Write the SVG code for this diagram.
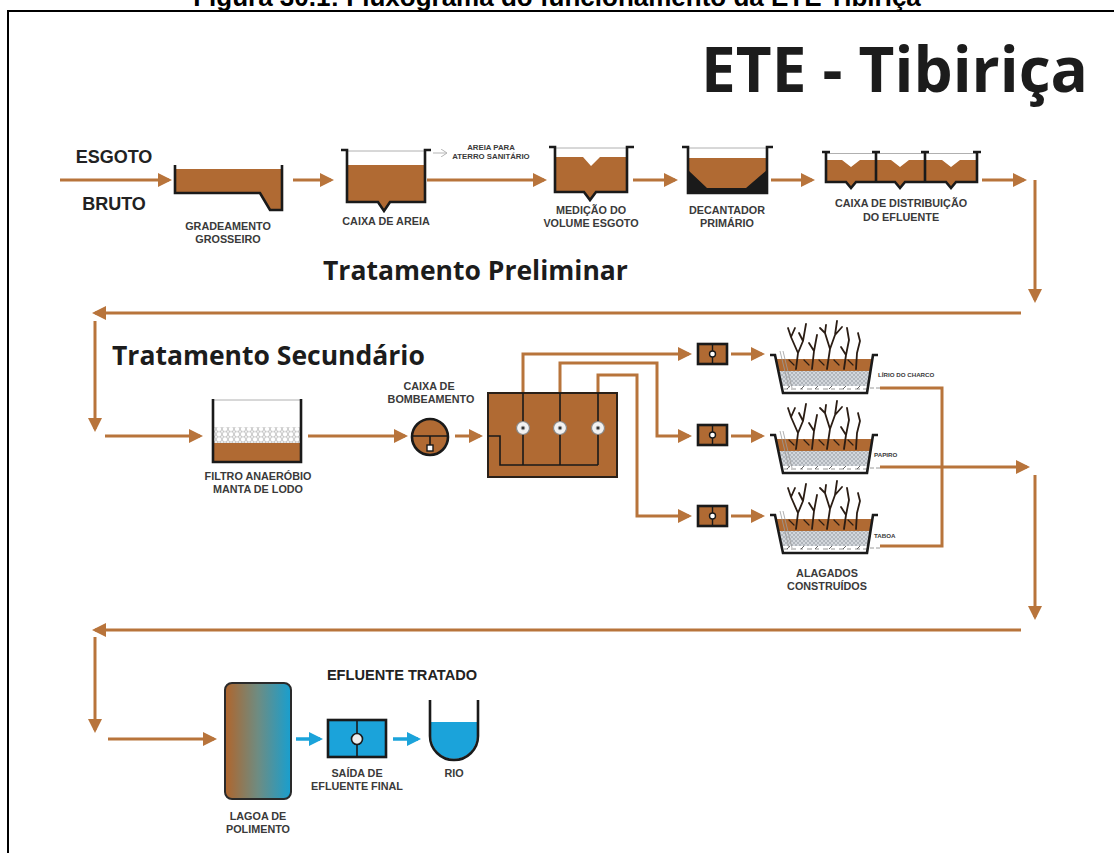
<svg xmlns="http://www.w3.org/2000/svg" xmlns:xlink="http://www.w3.org/1999/xlink" width="1114" height="853" viewBox="0 0 1114 853">
  <style>
    .flow { fill: none; stroke: #B8743B; stroke-width: 3; marker-end: url(#arrow); }
    .pipe { fill: none; stroke: #B8743B; stroke-width: 3; }
    .flow-blue { fill: none; stroke: #1BA3DA; stroke-width: 3.5; marker-end: url(#arrow-blue); }
    .wall { fill: none; stroke: #1a1a1a; stroke-width: 2.6; stroke-linejoin: miter; }
    .thin { fill: none; stroke: #1a1a1a; stroke-width: 1.6; }
    .surface { fill: none; stroke: #b0b0b0; stroke-width: 1; }
    .mud { fill: #B06A33; }
    .lbl { font-family: "Liberation Sans", Arial, sans-serif; font-weight: bold; font-size: 10.8px; fill: #3a3a3a; text-anchor: middle; }
    .small { font-family: "Liberation Sans", Arial, sans-serif; font-weight: bold; font-size: 6.2px; fill: #3a3a3a; }
    .head { font-family: "Open Sans", "DejaVu Sans", sans-serif; font-weight: bold; fill: #1c1c1c; }
    .plant { fill: none; stroke: #2b1d14; stroke-width: 1.8; stroke-linecap: round; stroke-linejoin: round; }
  </style>
  <defs>
    <marker id="arrow" markerUnits="userSpaceOnUse" markerWidth="14" markerHeight="14" refX="11" refY="7" orient="auto">
      <path d="M0 0 L14 7 L0 14 Z" fill="#B8743B"/>
    </marker>
    <marker id="arrow-blue" markerUnits="userSpaceOnUse" markerWidth="14" markerHeight="14" refX="11" refY="7" orient="auto">
      <path d="M0 0 L14 7 L0 14 Z" fill="#1BA3DA"/>
    </marker>
    <marker id="arrow-gray" markerUnits="userSpaceOnUse" markerWidth="8" markerHeight="8" refX="6" refY="4" orient="auto">
      <path d="M0 0 L6 4 L0 8" fill="none" stroke="#b5b5b5" stroke-width="1"/>
    </marker>
    <pattern id="hex" patternUnits="userSpaceOnUse" width="6" height="5.2">
      <rect width="6" height="5.2" fill="#ffffff"/>
      <path d="M0 2.6 L1.5 0 H4.5 L6 2.6 L4.5 5.2 H1.5 Z" fill="none" stroke="#9a9a9a" stroke-width="0.6"/>
    </pattern>
    <pattern id="gravel" patternUnits="userSpaceOnUse" width="4" height="4">
      <rect width="4" height="4" fill="#d3d7dc"/>
      <path d="M0 0 L4 4 M4 0 L0 4" stroke="#8f959c" stroke-width="0.5"/>
    </pattern>
    <linearGradient id="lagoon" x1="0" y1="0" x2="1" y2="0">
      <stop offset="0" stop-color="#B0652C"/>
      <stop offset="0.5" stop-color="#6E8C82"/>
      <stop offset="1" stop-color="#189FCF"/>
    </linearGradient>
    <clipPath id="basin-in">
      <path d="M5 0 L13 38 H97 L103 0 Z"/>
    </clipPath>
    <!-- constructed wetland basin with plants, origin at top-left flange -->
    <g id="wetland">
      <g clip-path="url(#basin-in)">
        <rect x="0" y="0" width="110" height="40" fill="#ffffff"/>
        <rect x="0" y="4" width="110" height="12" class="mud"/>
        <rect x="0" y="16" width="110" height="15" fill="url(#gravel)"/>
        <path d="M14 34 h4 m3 0 h5 m4 0 h3 m4 0 h5 m3 0 h4 m4 0 h5 m3 0 h4 m4 0 h5 m3 0 h4 m4 0 h5 m3 0 h4" stroke="#8a8a8a" stroke-width="0.9" fill="none"/>
        <path d="M20 31 l-3 3 M34 31 l-3 3 M48 31 l-3 3 M62 31 l-3 3 M76 31 l-3 3 M90 31 l-3 3" stroke="#555" stroke-width="0.9"/>
      </g>
      <path d="M10 -4 L19 33 M13 -4 L22 33" stroke="#9a9a9a" stroke-width="0.8" fill="none"/>
      <path d="M0 0 H5 L13 38 H97 L103 0 H108" class="wall"/>
      <path d="M100 33 H104 M106 33 H110" stroke="#9a9a9a" stroke-width="1"/>
      <g class="plant">
        <path d="M26 14 L28 -2 L21 -18 L18 -27 M28 -2 L33 -14 L36 -31 M21 -18 L25 -27 M33 -14 L29 -22"/>
        <path d="M42 14 L44 -4 L47 -20 M44 -4 L39 -12"/>
        <path d="M57 14 L60 -6 L55 -22 L56 -30 M60 -6 L65 -20 L67 -34 M65 -20 L72 -28 M55 -22 L50 -27"/>
        <path d="M74 14 L76 0 L79 -15 L77 -27 M76 0 L71 -8"/>
        <path d="M86 14 L87 -2 L90 -14 L88 -22"/>
        <path d="M24 10 L19 5 M39 10 L34 5 M54 10 L49 5 M69 10 L64 5 M83 10 L78 5" stroke-width="1.2"/>
      </g>
    </g>
  </defs>

  <rect x="0" y="0" width="1114" height="853" fill="#ffffff"/>

  <!-- page heading and frame -->
  <text x="557" y="6" font-family="Liberation Sans, Arial, sans-serif" font-weight="bold" font-size="26" fill="#000" text-anchor="middle">Figura 30.1: Fluxograma do funcionamento da ETE Tibiriça</text>
  <path d="M8 853 V11 H1114" fill="none" stroke="#000" stroke-width="2"/>

  <text class="head" x="1088" y="92" font-size="62" text-anchor="end">ETE - Tibiriça</text>
  <text class="head" x="323" y="280" font-size="26.5">Tratamento Preliminar</text>
  <text class="head" x="112" y="365" font-size="26.5">Tratamento Secundário</text>

  <!-- connectors -->
  <g id="connectors">
    <path class="flow" d="M60 180 H169"/>
    <path class="flow" d="M293 180 H331"/>
    <path class="flow" d="M427 180 H544"/>
    <path class="flow" d="M633 180 H675"/>
    <path class="flow" d="M771 180 H812"/>
    <path class="flow" d="M982 180 H1024"/>
    <path class="flow" d="M1035 180 V300"/>
    <path class="flow" d="M1021 313 H95"/>
    <path class="flow" d="M95 321 V429"/>
    <path d="M433 153 H447" fill="none" stroke="#b5b5b5" stroke-width="1" marker-end="url(#arrow-gray)"/>

    <path class="flow" d="M105 436 H200"/>
    <path class="flow" d="M308 436 H405"/>
    <path class="flow" d="M455 436 H480"/>
    <path class="flow" d="M523 393 V354 H689"/>
    <path class="flow" d="M560 393 V363 H657 V436 H689"/>
    <path class="flow" d="M598 393 V375 H637 V516 H689"/>
    <path class="flow" d="M731 354 H762"/>
    <path class="flow" d="M731 436 H762"/>
    <path class="flow" d="M731 516 H762"/>
    <path class="pipe" d="M880 388 H942 V546 H880"/>
    <path class="flow" d="M880 467 H1027"/>
    <path class="flow" d="M1035 475 V617"/>
    <path class="flow" d="M1021 630 H95"/>
    <path class="flow" d="M95 637 V730"/>

    <path class="flow" d="M108 739 H214"/>
    <path class="flow-blue" d="M296 739 H320"/>
    <path class="flow-blue" d="M393 739 H418"/>
  </g>

  <!-- raw sewage inlet -->
  <g id="esgoto-bruto">
    <text x="114" y="163" font-family="Liberation Sans, Arial, sans-serif" font-weight="bold" font-size="18" fill="#222" text-anchor="middle">ESGOTO</text>
    <text x="114" y="210" font-family="Liberation Sans, Arial, sans-serif" font-weight="bold" font-size="18" fill="#222" text-anchor="middle">BRUTO</text>
  </g>

  <g id="gradeamento">
    <path class="mud" d="M175 169 H282 V210 H270 L260 193 H175 Z"/>
    <path class="wall" d="M175 165 V193 H260 L270 210 H282 V165"/>
    <text class="lbl" x="228" y="230">GRADEAMENTO</text>
    <text class="lbl" x="228" y="243">GROSSEIRO</text>
  </g>

  <g id="caixa-areia">
    <path class="surface" d="M347 151 H425"/>
    <path class="mud" d="M347 165 H425 V202 H390 L384 211 L378 202 H347 Z"/>
    <path class="wall" d="M341 150 H347 V202 H378 L384 211 L390 202 H425 V150 H431"/>
    <text class="lbl" x="386" y="225">CAIXA DE AREIA</text>
    <text x="491" y="150" font-family="Liberation Sans, Arial, sans-serif" font-weight="bold" font-size="7.8" fill="#3a3a3a" text-anchor="middle">AREIA PARA</text>
    <text x="491" y="159" font-family="Liberation Sans, Arial, sans-serif" font-weight="bold" font-size="7.8" fill="#3a3a3a" text-anchor="middle">ATERRO SANITÁRIO</text>
  </g>

  <g id="medicao">
    <path class="surface" d="M555 148 H627"/>
    <path class="mud" d="M555 157 H583 L591 166 L600 157 H627 V192 H596 L590 199 L584 192 H555 Z"/>
    <path class="wall" d="M549 147 H555 V192 H584 L590 200 L596 192 H627 V147 H634"/>
    <text class="lbl" x="591" y="214">MEDIÇÃO DO</text>
    <text class="lbl" x="591" y="227">VOLUME ESGOTO</text>
  </g>

  <g id="decantador">
    <path class="surface" d="M688 148 H767"/>
    <rect class="mud" x="688" y="158" width="79" height="35"/>
    <path d="M688 170 L707 188 H746 L767 170 V193 H688 Z" fill="#1a1a1a"/>
    <path class="wall" d="M682 147 H688 V193 H767 V147 H773"/>
    <text class="lbl" x="727" y="214">DECANTADOR</text>
    <text class="lbl" x="727" y="227">PRIMÁRIO</text>
  </g>

  <g id="caixa-distribuicao">
    <path class="surface" d="M826 153.5 H977"/>
    <path class="mud" d="M826 160 H842 L851 167 L860 160 H891 L900 167 L909 160 H942 L951 167 L960 160 H977 V182 H956 L951 188 L946 182 H905 L900 188 L895 182 H856 L851 188 L846 182 H826 Z"/>
    <path class="wall" d="M826 152 V182 H846 L851 188 L856 182 H895 L900 188 L905 182 H946 L951 188 L956 182 H977 V152"/>
    <path class="wall" d="M876 152 V182 M925 152 V182 M822 152 H830 M872 152 H880 M921 152 H929 M973 152 H981"/>
    <text class="lbl" x="901" y="207">CAIXA DE DISTRIBUIÇÃO</text>
    <text class="lbl" x="901" y="221">DO EFLUENTE</text>
  </g>

  <g id="filtro-anaerobio">
    <path class="surface" d="M213 400 H301"/>
    <rect x="214" y="427" width="86" height="16" fill="url(#hex)"/>
    <rect class="mud" x="214" y="443" width="86" height="18"/>
    <path class="wall" d="M213 399 V462 H301 V399"/>
    <text class="lbl" x="258" y="480">FILTRO ANAERÓBIO</text>
    <text class="lbl" x="258" y="493">MANTA DE LODO</text>
  </g>

  <g id="caixa-bombeamento">
    <circle cx="430" cy="437" r="18" class="mud" stroke="#1a1a1a" stroke-width="2.6"/>
    <path class="thin" d="M412 436 H448 M430 436 V446" stroke-width="2"/>
    <rect x="427" y="445" width="6" height="6" fill="#ffffff" stroke="#1a1a1a" stroke-width="1.4"/>
    <text class="lbl" x="429" y="390">CAIXA DE</text>
    <text class="lbl" x="431" y="403">BOMBEAMENTO</text>
  </g>

  <g id="caixa-divisora">
    <rect x="488" y="393" width="129" height="84" class="mud" stroke="#2a2018" stroke-width="2"/>
    <path class="thin" d="M488 436 H500 V465 H598 M523 393 V465 M560 393 V465 M598 393 V465"/>
    <g fill="#f2f2f2" stroke="#8a8a8a" stroke-width="1.2">
      <circle cx="523" cy="428" r="6.5"/>
      <circle cx="560" cy="428" r="6.5"/>
      <circle cx="598" cy="428" r="6.5"/>
    </g>
    <g fill="#333" stroke="#9a9a9a" stroke-width="0.8">
      <circle cx="523" cy="428" r="1.8"/>
      <circle cx="560" cy="428" r="1.8"/>
      <circle cx="598" cy="428" r="1.8"/>
    </g>
  </g>

  <g id="valvulas">
    <g stroke="#1a1a1a">
      <rect x="698" y="344" width="29" height="20" class="mud" stroke-width="2.6"/>
      <rect x="698" y="425" width="29" height="20" class="mud" stroke-width="2.6"/>
      <rect x="698" y="506" width="29" height="20" class="mud" stroke-width="2.6"/>
      <path d="M712.5 344 V364 M712.5 425 V445 M712.5 506 V526" stroke-width="1.4"/>
    </g>
    <g fill="#ffffff" stroke="#1a1a1a" stroke-width="1.4">
      <circle cx="712.5" cy="354" r="3"/>
      <circle cx="712.5" cy="435" r="3"/>
      <circle cx="712.5" cy="516" r="3"/>
    </g>
  </g>

  <g id="alagados">
    <use xlink:href="#wetland" href="#wetland" x="770" y="355"/>
    <use xlink:href="#wetland" href="#wetland" x="770" y="435"/>
    <use xlink:href="#wetland" href="#wetland" x="770" y="515"/>
    <text class="small" x="878" y="377">LÍRIO DO CHARCO</text>
    <text class="small" x="874" y="457">PAPIRO</text>
    <text class="small" x="874" y="538">TABOA</text>
    <text class="lbl" x="827" y="577">ALAGADOS</text>
    <text class="lbl" x="827" y="590">CONSTRUÍDOS</text>
  </g>

  <g id="lagoa-polimento">
    <rect x="225" y="683" width="66" height="116" rx="7" fill="url(#lagoon)" stroke="#2a2a2a" stroke-width="2"/>
    <text class="lbl" x="258" y="820">LAGOA DE</text>
    <text class="lbl" x="258" y="833">POLIMENTO</text>
  </g>

  <g id="saida-efluente">
    <rect x="328" y="720" width="58" height="37" fill="#1BA3DA" stroke="#1a1a1a" stroke-width="2.6"/>
    <path d="M357 720 V757" stroke="#1a1a1a" stroke-width="1.6"/>
    <circle cx="357" cy="739" r="5.5" fill="#eeeeee" stroke="#1a1a1a" stroke-width="1.6"/>
    <text class="lbl" x="357" y="777">SAÍDA DE</text>
    <text class="lbl" x="357" y="790">EFLUENTE FINAL</text>
  </g>

  <g id="rio">
    <path d="M431 722 H477 V736 A23 23 0 0 1 431 736 Z" fill="#1BA3DA"/>
    <path class="wall" d="M430 700 V736 A24 24 0 0 0 478 736 V700"/>
    <text class="lbl" x="454" y="777">RIO</text>
  </g>

  <g id="efluente-tratado">
    <text x="402" y="680" font-family="Liberation Sans, Arial, sans-serif" font-weight="bold" font-size="14.6" fill="#222" text-anchor="middle">EFLUENTE TRATADO</text>
  </g>
</svg>
